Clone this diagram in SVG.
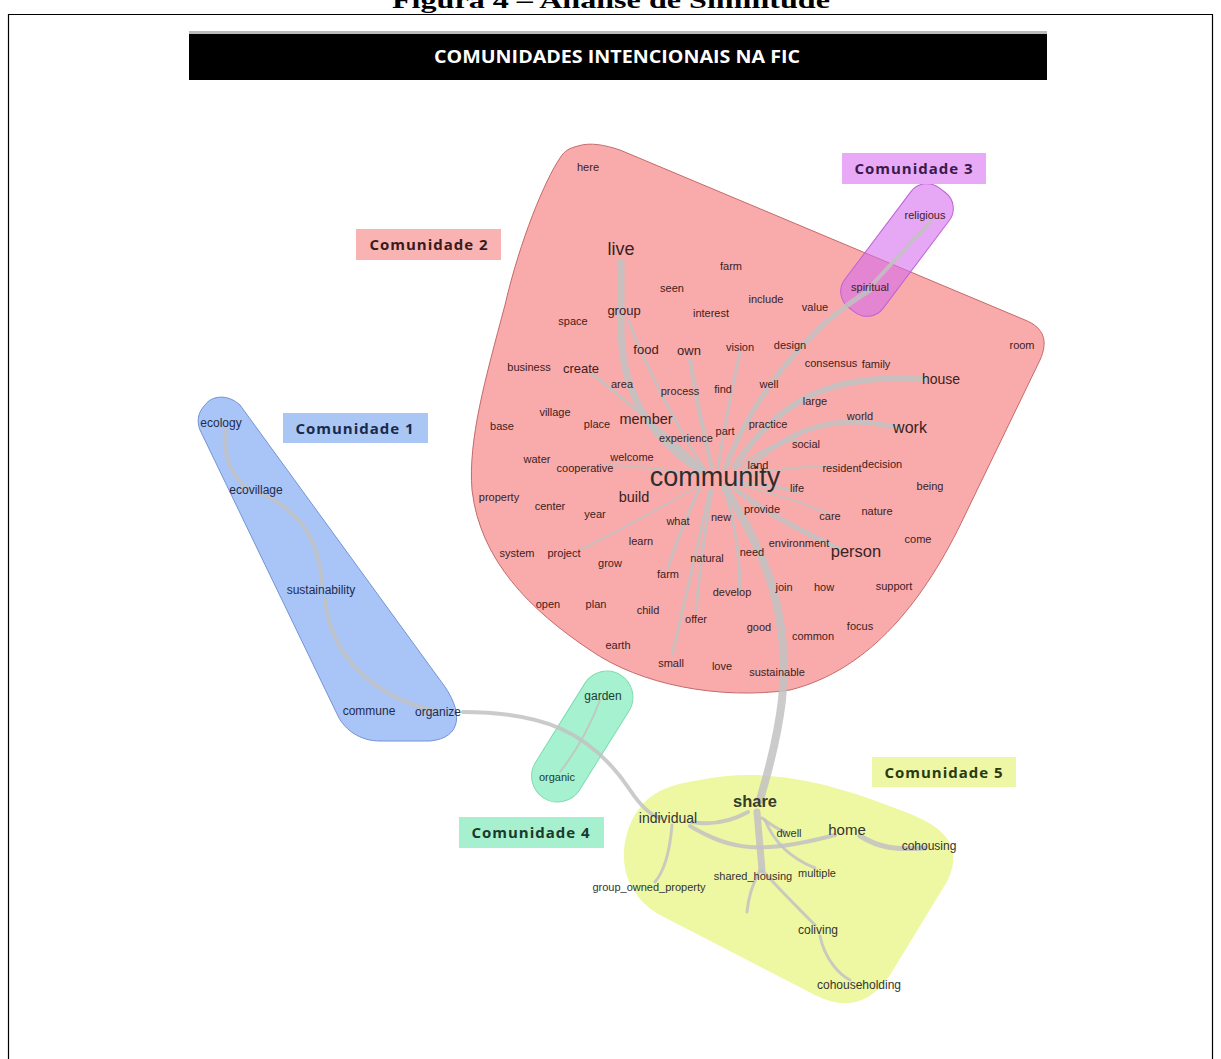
<svg xmlns="http://www.w3.org/2000/svg" width="1221" height="1059" viewBox="0 0 1221 1059">
<style>
text{font-family:"Liberation Sans",Arial,sans-serif;text-anchor:middle}
.w{font-size:11px;fill:#3b2222}
.m{font-size:13px;fill:#3b2222}
.l{font-size:16px;fill:#3b2222}
.b{font-size:12px;fill:#1d2b4d}
.g{font-size:11px;fill:#1f3d2d}
.y{font-size:12px;fill:#333}
.lab{font-family:"Open Sans","DejaVu Sans",sans-serif;font-weight:bold;font-size:15px;letter-spacing:1px}
.e{fill:none;stroke:#c2c2c2;stroke-linecap:round;stroke-opacity:0.85}
</style>
<rect width="1221" height="1059" fill="#fff"/>
<text x="611" y="8" style="font-family:'Liberation Serif','Times New Roman',serif;font-weight:bold;font-size:23px;fill:#000" textLength="438" lengthAdjust="spacingAndGlyphs">Figura 4 – Análise de Similitude</text>
<path d="M8.5,1059 V14.5 H1212.5 V1059" fill="none" stroke="#000" stroke-width="1.2"/>
<g id="banner">
<rect x="189" y="31" width="858" height="3" fill="#bbb"/>
<rect x="189" y="34" width="858" height="46" fill="#000"/>
<text x="617" y="63" style="font-family:'Open Sans','DejaVu Sans',sans-serif;font-weight:bold;font-size:18px;fill:#fff" textLength="366" lengthAdjust="spacingAndGlyphs">COMUNIDADES INTENCIONAIS NA FIC</text>
</g>
<g id="regions">
<path id="reg2" d="M578,146 C590,142 605,145 620,150 L1025,320 C1045,328 1048,342 1040,360 L965,515 C925,600 870,670 790,690 C720,700 640,685 590,650 C530,610 480,560 472,490 C468,440 485,380 505,305 C520,240 545,180 560,158 C565,150 570,148 578,146 Z" fill="#f9abab" stroke="#c46a6a" stroke-width="1"/>
<rect id="reg3" x="822" y="226" width="150" height="48" rx="20" transform="rotate(-53 897 250)" fill="#d56ded" fill-opacity="0.6" stroke="#c060d8" stroke-width="1"/>
<path id="reg1" d="M205,405 C212,395 228,394 240,405 L440,680 C465,712 462,738 430,741 L380,741 C360,741 345,730 338,716 L200,430 C196,420 199,411 205,405 Z" fill="#a9c4f7" stroke="#7394d4" stroke-width="1"/>
<rect id="reg4" x="510" y="711" width="145" height="52" rx="26" transform="rotate(-58 582 737)" fill="#a6f1cf" stroke="#7fdcb0" stroke-width="1"/>
<path id="reg5" d="M700,780 C760,768 820,778 900,810 C950,828 962,848 948,880 L890,975 C870,1005 845,1010 815,995 L660,915 C625,895 618,860 628,830 C640,795 665,785 700,780 Z" fill="#eef8a2"/>
</g>
<g id="connectors">
<path class="e" stroke-width="7" d="M621,262 L621,330 Q622,420 700,470"/>
<path class="e" stroke-width="3" d="M628,320 Q660,400 705,470"/>
<path class="e" stroke-width="4" d="M690,360 Q700,420 712,468"/>
<path class="e" stroke-width="3" d="M740,352 Q725,420 718,468"/>
<path class="e" stroke-width="5" d="M870,290 C820,320 760,380 725,468"/>
<path class="e" stroke-width="4" d="M870,287 L930,222"/>
<path class="e" stroke-width="6" d="M925,379 C860,376 790,380 735,466"/>
<path class="e" stroke-width="5" d="M900,428 C860,420 810,410 745,470"/>
<path class="e" stroke-width="5" d="M840,550 C800,530 760,510 735,488"/>
<path class="e" stroke-width="8" d="M725,488 C770,560 790,620 782,700 C776,750 765,780 760,800"/>
<path class="e" stroke-width="3" d="M700,488 Q680,530 668,568"/>
<path class="e" stroke-width="2" d="M700,485 Q640,520 580,550"/>
<path class="e" stroke-width="3" d="M650,425 Q680,450 700,470"/>
<path class="e" stroke-width="3" d="M590,372 Q650,420 705,470"/>
<path class="e" stroke-width="3" d="M725,490 Q740,540 740,590"/>
<path class="e" stroke-width="3" d="M710,490 Q690,580 672,655"/>
<path class="e" stroke-width="3" d="M735,482 Q770,485 800,492"/>
<path class="e" stroke-width="2" d="M740,485 Q800,500 830,515"/>
<path class="e" stroke-width="3" d="M712,490 Q700,560 696,612"/>
<path class="e" stroke-width="2" d="M740,476 Q800,465 840,466"/>
<path class="e" stroke-width="2" d="M735,470 Q770,440 800,440"/>
<path class="e" stroke-width="2" d="M700,475 Q640,465 600,465"/>
<path class="e" stroke-width="4" d="M463,712 C540,712 590,730 630,790 C640,805 650,815 660,818"/>
<path class="e" stroke-width="4" d="M225,430 C222,460 235,480 250,490"/>
<path class="e" stroke-width="4" d="M260,493 C300,510 320,540 322,585"/>
<path class="e" stroke-width="4" d="M325,598 C330,660 380,700 440,712"/>
<path class="e" stroke-width="2" d="M600,700 Q585,740 560,772"/>
<path class="e" stroke-width="4" d="M748,812 C730,822 710,825 692,822"/>
<path class="e" stroke-width="7" d="M757,812 L762,870"/>
<path class="e" stroke-width="3" d="M762,818 Q775,828 785,832"/>
<path class="e" stroke-width="4" d="M690,826 C730,850 760,855 835,835"/>
<path class="e" stroke-width="5" d="M860,836 C880,848 895,850 925,848"/>
<path class="e" stroke-width="3" d="M765,820 C775,845 795,860 815,868"/>
<path class="e" stroke-width="3" d="M762,870 C780,890 800,910 815,925"/>
<path class="e" stroke-width="3" d="M820,936 C825,960 840,975 850,980"/>
<path class="e" stroke-width="3" d="M672,825 C670,850 665,870 655,882"/>
<path class="e" stroke-width="3" d="M760,870 C752,885 748,900 747,912"/>
</g>
<g id="labels">
<g id="lab2"><rect x="356" y="229" width="145" height="31" fill="#f9b3b3"/><text class="lab" x="429" y="250" fill="#3a1a1a">Comunidade 2</text></g>
<g id="lab3"><rect x="842" y="153" width="144" height="31" fill="#e8a9f6"/><text class="lab" x="914" y="174" fill="#3a1a4a">Comunidade 3</text></g>
<g id="lab1"><rect x="283" y="413" width="145" height="30" fill="#a9c6f5"/><text class="lab" x="355" y="434" fill="#1a2a4a">Comunidade 1</text></g>
<g id="lab4"><rect x="459" y="817" width="145" height="31" fill="#a6f0cf"/><text class="lab" x="531" y="838" fill="#1a3a2a">Comunidade 4</text></g>
<g id="lab5"><rect x="872" y="757" width="144" height="30" fill="#eef7a6"/><text class="lab" x="944" y="778" fill="#2a3a10">Comunidade 5</text></g>
</g>
<g id="words">
<g id="n-here"><text class="w" x="588" y="171">here</text></g>
<g id="n-live"><text class="l" style="font-size:18px" x="621" y="255">live</text></g>
<g id="n-farm1"><text class="w" x="731" y="270">farm</text></g>
<g id="n-seen"><text class="w" x="672" y="292">seen</text></g>
<g id="n-include"><text class="w" x="766" y="303">include</text></g>
<g id="n-value"><text class="w" x="815" y="311">value</text></g>
<g id="n-spiritual"><text class="w" x="870" y="291">spiritual</text></g>
<g id="n-religious"><text class="w" x="925" y="219">religious</text></g>
<g id="n-group"><text class="m" x="624" y="315">group</text></g>
<g id="n-interest"><text class="w" x="711" y="317">interest</text></g>
<g id="n-space"><text class="w" x="573" y="325">space</text></g>
<g id="n-food"><text class="m" x="646" y="354">food</text></g>
<g id="n-own"><text class="m" x="689" y="355">own</text></g>
<g id="n-vision"><text class="w" x="740" y="351">vision</text></g>
<g id="n-design"><text class="w" x="790" y="349">design</text></g>
<g id="n-consensus"><text class="w" x="831" y="367">consensus</text></g>
<g id="n-family"><text class="w" x="876" y="368">family</text></g>
<g id="n-room"><text class="w" x="1022" y="349">room</text></g>
<g id="n-business"><text class="w" x="529" y="371">business</text></g>
<g id="n-create"><text class="m" x="581" y="373">create</text></g>
<g id="n-area"><text class="w" x="622" y="388">area</text></g>
<g id="n-process"><text class="w" x="680" y="395">process</text></g>
<g id="n-find"><text class="w" x="723" y="393">find</text></g>
<g id="n-well"><text class="w" x="769" y="388">well</text></g>
<g id="n-house"><text class="m" style="font-size:14px" x="941" y="384">house</text></g>
<g id="n-large"><text class="w" x="815" y="405">large</text></g>
<g id="n-village"><text class="w" x="555" y="416">village</text></g>
<g id="n-place"><text class="w" x="597" y="428">place</text></g>
<g id="n-member"><text class="m" style="font-size:14.5px" x="646" y="424">member</text></g>
<g id="n-part"><text class="w" x="725" y="435">part</text></g>
<g id="n-practice"><text class="w" x="768" y="428">practice</text></g>
<g id="n-world"><text class="w" x="860" y="420">world</text></g>
<g id="n-work"><text class="l" x="910" y="433">work</text></g>
<g id="n-base"><text class="w" x="502" y="430">base</text></g>
<g id="n-experience"><text class="w" x="686" y="442">experience</text></g>
<g id="n-social"><text class="w" x="806" y="448">social</text></g>
<g id="n-water"><text class="w" x="537" y="463">water</text></g>
<g id="n-welcome"><text class="w" x="632" y="461">welcome</text></g>
<g id="n-cooperative"><text class="w" x="585" y="472">cooperative</text></g>
<g id="n-land"><text class="w" x="758" y="469">land</text></g>
<g id="n-community"><text x="715" y="486" style="font-size:27px;fill:#2e2e2e">community</text></g>
<g id="n-resident"><text class="w" x="842" y="472">resident</text></g>
<g id="n-decision"><text class="w" x="882" y="468">decision</text></g>
<g id="n-life"><text class="w" x="797" y="492">life</text></g>
<g id="n-being"><text class="w" x="930" y="490">being</text></g>
<g id="n-property"><text class="w" x="499" y="501">property</text></g>
<g id="n-build"><text class="m" style="font-size:14.5px" x="634" y="502">build</text></g>
<g id="n-center"><text class="w" x="550" y="510">center</text></g>
<g id="n-year"><text class="w" x="595" y="518">year</text></g>
<g id="n-provide"><text class="w" x="762" y="513">provide</text></g>
<g id="n-what"><text class="w" x="678" y="525">what</text></g>
<g id="n-new"><text class="w" x="721" y="521">new</text></g>
<g id="n-care"><text class="w" x="830" y="520">care</text></g>
<g id="n-nature"><text class="w" x="877" y="515">nature</text></g>
<g id="n-come"><text class="w" x="918" y="543">come</text></g>
<g id="n-learn"><text class="w" x="641" y="545">learn</text></g>
<g id="n-environment"><text class="w" x="799" y="547">environment</text></g>
<g id="n-person"><text class="l" style="font-size:16.5px" x="856" y="557">person</text></g>
<g id="n-system"><text class="w" x="517" y="557">system</text></g>
<g id="n-project"><text class="w" x="564" y="557">project</text></g>
<g id="n-need"><text class="w" x="752" y="556">need</text></g>
<g id="n-natural"><text class="w" x="707" y="562">natural</text></g>
<g id="n-grow"><text class="w" x="610" y="567">grow</text></g>
<g id="n-farm2"><text class="w" x="668" y="578">farm</text></g>
<g id="n-join"><text class="w" x="784" y="591">join</text></g>
<g id="n-how"><text class="w" x="824" y="591">how</text></g>
<g id="n-support"><text class="w" x="894" y="590">support</text></g>
<g id="n-develop"><text class="w" x="732" y="596">develop</text></g>
<g id="n-open"><text class="w" x="548" y="608">open</text></g>
<g id="n-plan"><text class="w" x="596" y="608">plan</text></g>
<g id="n-child"><text class="w" x="648" y="614">child</text></g>
<g id="n-offer"><text class="w" x="696" y="623">offer</text></g>
<g id="n-good"><text class="w" x="759" y="631">good</text></g>
<g id="n-common"><text class="w" x="813" y="640">common</text></g>
<g id="n-focus"><text class="w" x="860" y="630">focus</text></g>
<g id="n-earth"><text class="w" x="618" y="649">earth</text></g>
<g id="n-small"><text class="w" x="671" y="667">small</text></g>
<g id="n-love"><text class="w" x="722" y="670">love</text></g>
<g id="n-sustainable"><text class="w" x="777" y="676">sustainable</text></g>
<g id="n-ecology"><text class="b" x="221" y="427">ecology</text></g>
<g id="n-ecovillage"><text class="b" x="256" y="494">ecovillage</text></g>
<g id="n-sustainability"><text class="b" x="321" y="594">sustainability</text></g>
<g id="n-commune"><text class="b" x="369" y="715">commune</text></g>
<g id="n-organize"><text class="b" x="438" y="716">organize</text></g>
<g id="n-garden"><text class="g" style="font-size:12px" x="603" y="700">garden</text></g>
<g id="n-organic"><text class="g" x="557" y="781">organic</text></g>
<g id="n-share"><text class="y" style="font-size:16.5px;font-weight:bold;fill:#3a3a2a" x="755" y="807">share</text></g>
<g id="n-individual"><text class="y" style="font-size:14px" x="668" y="823">individual</text></g>
<g id="n-dwell"><text class="y" style="font-size:11px" x="789" y="837">dwell</text></g>
<g id="n-home"><text class="y" style="font-size:15px" x="847" y="835">home</text></g>
<g id="n-cohousing"><text class="y" x="929" y="850">cohousing</text></g>
<g id="n-shared_housing"><text class="y" style="font-size:11px" x="753" y="880">shared_housing</text></g>
<g id="n-multiple"><text class="y" style="font-size:11px" x="817" y="877">multiple</text></g>
<g id="n-group_owned_property"><text class="y" style="font-size:11px" x="649" y="891">group_owned_property</text></g>
<g id="n-coliving"><text class="y" x="818" y="934">coliving</text></g>
<g id="n-cohouseholding"><text class="y" x="859" y="989">cohouseholding</text></g>
</g>
</svg>
